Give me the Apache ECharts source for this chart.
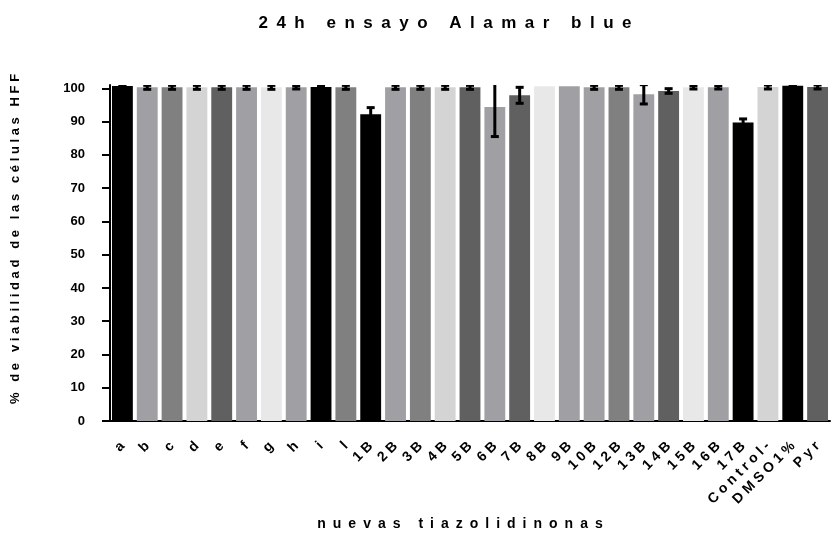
<!DOCTYPE html>
<html>
<head>
<meta charset="utf-8">
<script src="https://cdn.jsdelivr.net/npm/echarts@6/dist/echarts.min.js"></script>
<style>
  html, body { margin: 0; padding: 0; background: #fff; }
  #chart { width: 833px; height: 544px; }
</style>
</head>
<body>
<div id="chart"></div>
<script>
// Compounds tested (x axis)
const categories = ['a', 'b', 'c', 'd', 'e', 'f', 'g', 'h', 'i', 'l',
  '1B', '2B', '3B', '4B', '5B', '6B', '7B', '8B', '9B', '10B',
  '12B', '13B', '14B', '15B', '16B', '17B', 'Control-', 'DMSO1%', 'Pyr'];

// Mean cell viability (%) after 24 h
const viability = [100.7, 100.3, 100.3, 100.3, 100.3, 100.3, 100.3, 100.3, 100.4, 100.3,
  92.2, 100.3, 100.3, 100.3, 100.3, 94.4, 97.9, 100.6, 100.6, 100.3,
  100.3, 98.2, 99.2, 100.3, 100.3, 89.7, 100.4, 100.8, 100.4];

// Standard deviation of each mean
const deviation = [0.3, 0.6, 0.6, 0.6, 0.6, 0.6, 0.6, 0.5, 0.3, 0.6,
  2.0, 0.6, 0.6, 0.6, 0.6, 8.9, 2.4, 0, 0, 0.6,
  0.6, 2.9, 0.7, 0.5, 0.5, 1.1, 0.6, 0.3, 0.6];

// Fill shade of every bar
const barColors = ['#000000', '#a0a0a4', '#808080', '#d4d4d4', '#606060', '#a0a0a4', '#e8e8e8', '#a0a0a4', '#000000', '#808080',
  '#000000', '#a0a0a4', '#808080', '#d4d4d4', '#606060', '#a0a0a4', '#606060', '#e8e8e8', '#a0a0a4', '#a0a0a4',
  '#808080', '#a0a0a4', '#606060', '#e8e8e8', '#a0a0a4', '#000000', '#d4d4d4', '#000000', '#606060'];

// Y axis tick values
const yTicks = [0, 10, 20, 30, 40, 50, 60, 70, 80, 90, 100];

const FONT = '"Liberation Sans", Arial, sans-serif';

// Widen the tracking of a string with a spacer character between letters
function spread(str, gap) {
  return Array.from(str).join(gap);
}

const chart = echarts.init(document.getElementById('chart'), null, { renderer: 'canvas' });

chart.setOption({
  animation: false,
  backgroundColor: '#ffffff',
  title: {
    text: spread('24h ensayo Alamar blue', '\u2002'),
    left: 440,
    top: 10,
    textAlign: 'center',
    textStyle: { fontFamily: FONT, fontWeight: 'bold', fontSize: 17, color: '#000' }
  },
  grid: { left: 110, right: 3, top: 85, bottom: 123, containLabel: false },
  xAxis: {
    type: 'category',
    data: categories,
    name: spread('nuevas tiazolidinonas', '\u2002'),
    nameLocation: 'middle',
    nameGap: 96,
    nameTextStyle: { fontFamily: FONT, fontWeight: 'bold', fontSize: 14, color: '#000', padding: [0, 20, 0, 0] },
    axisLine: { lineStyle: { color: '#000', width: 2 } },
    axisTick: { alignWithLabel: true, length: 7, lineStyle: { color: '#000', width: 2 } },
    axisLabel: {
      rotate: 45,
      interval: 0,
      margin: 23,
      color: '#000',
      fontFamily: FONT,
      fontWeight: 'bold',
      fontSize: 14,
      formatter: v => spread(v, ' ')
    },
    splitLine: { show: false }
  },
  yAxis: {
    type: 'value',
    min: 0,
    max: 101,
    interval: 10,
    name: spread('% de viabilidad de las células HFF', ' '),
    nameLocation: 'middle',
    nameRotate: 90,
    nameGap: 88,
    nameTextStyle: { fontFamily: FONT, fontWeight: 'bold', fontSize: 13, color: '#000', padding: [0, 0, 0, 28] },
    axisLine: { show: true, lineStyle: { color: '#000', width: 2 } },
    axisTick: { show: true, length: 8, customValues: yTicks, lineStyle: { color: '#000', width: 2 } },
    axisLabel: {
      customValues: yTicks,
      margin: 25,
      color: '#000',
      fontFamily: FONT,
      fontWeight: 'bold',
      fontSize: 13
    },
    splitLine: { show: false }
  },
  series: [
    {
      type: 'bar',
      barWidth: '84%',
      clip: true,
      data: viability.map((v, i) => ({ value: v, itemStyle: { color: barColors[i] } }))
    },
    {
      type: 'custom',
      clip: true,
      z: 5,
      data: viability.map((v, i) => [i, v, deviation[i]]),
      renderItem: function (params, api) {
        const idx = api.value(0);
        const mean = api.value(1);
        const err = api.value(2);
        if (!err) return null;
        const top = api.coord([idx, mean + err]);
        const bottom = api.coord([idx, mean - err]);
        const half = 4;
        const style = { stroke: '#000', lineWidth: 3 };
        return {
          type: 'group',
          children: [
            { type: 'line', shape: { x1: top[0], y1: top[1], x2: bottom[0], y2: bottom[1] }, style: style },
            { type: 'line', shape: { x1: top[0] - half, y1: top[1], x2: top[0] + half, y2: top[1] }, style: style },
            { type: 'line', shape: { x1: bottom[0] - half, y1: bottom[1], x2: bottom[0] + half, y2: bottom[1] }, style: style }
          ]
        };
      }
    }
  ]
});
</script>
</body>
</html>
